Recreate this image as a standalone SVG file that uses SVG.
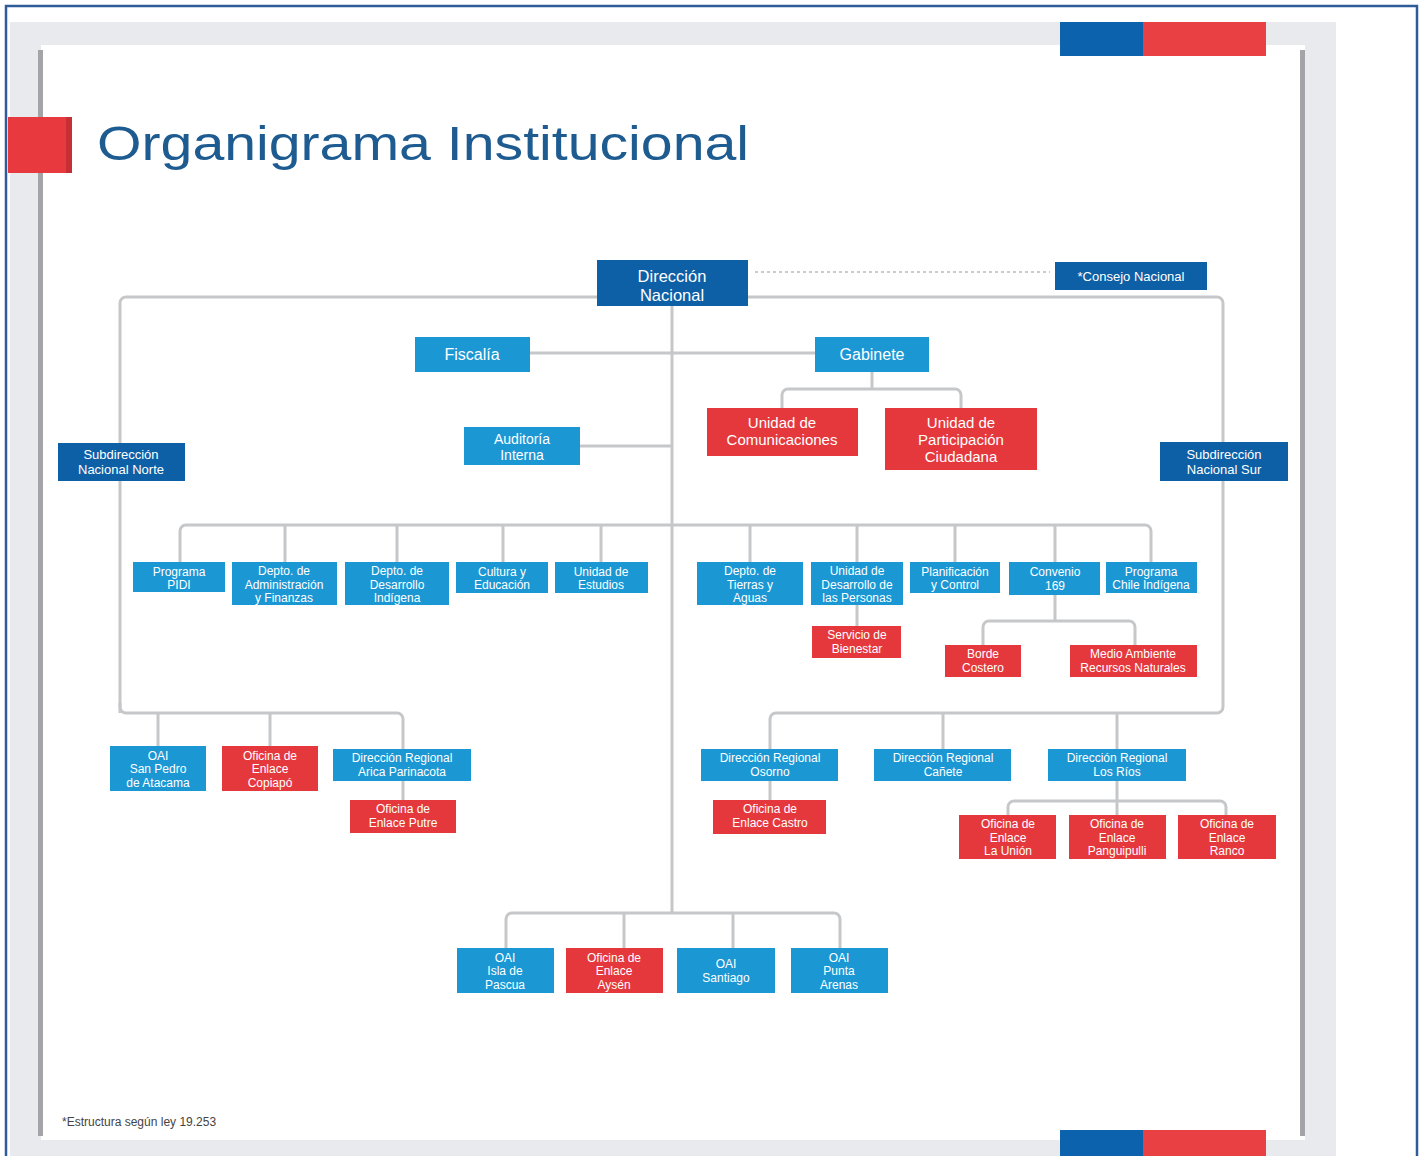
<svg xmlns="http://www.w3.org/2000/svg" width="1421" height="1156" viewBox="0 0 1421 1156">
<style>
.lb{fill:#1b97d4}
.db{fill:#0d5fa6}
.rd{fill:#e4383d}
text{font-family:"Liberation Sans",Arial,sans-serif;fill:#fff;text-anchor:middle}
.s12{font-size:12px}
.s13{font-size:13px}
.s14{font-size:14px}
.s15{font-size:15px}
.s16{font-size:16px}
.s17{font-size:16.5px}
.c{fill:none;stroke:#c6c7c9;stroke-width:3;stroke-linejoin:round;stroke-linecap:butt}
</style>
<rect x="0" y="0" width="1421" height="1156" fill="#fff"/>
<rect x="10" y="22" width="1326" height="1134" fill="#e9eaee"/>
<rect x="41" y="45" width="1264" height="1095" fill="#fff"/>
<rect x="38" y="50" width="5" height="1086" fill="#a3a4a8"/>
<rect x="1300" y="50" width="5" height="1086" fill="#a3a4a8"/>
<rect x="1060" y="22" width="83" height="34" fill="#0d62ad"/>
<rect x="1143" y="22" width="123" height="34" fill="#e94044"/>
<rect x="1060" y="1130" width="83" height="26" fill="#0d62ad"/>
<rect x="1143" y="1130" width="123" height="26" fill="#e94044"/>
<rect x="8" y="117" width="58" height="56" fill="#e8393e"/>
<rect x="66" y="117" width="6" height="56" fill="#c52f36"/>
<rect x="6" y="6" width="1411" height="1152" fill="none" stroke="#2f5c98" stroke-width="2.5"/>
<text x="97" y="160" style="font-size:48px;fill:#1d5b90;text-anchor:start" textLength="652" lengthAdjust="spacingAndGlyphs">Organigrama Institucional</text>
<text x="62" y="1126" style="font-size:12px;fill:#444;text-anchor:start">*Estructura según ley 19.253</text>

<g id="connectors">
<path class="c" d="M120,713 V303 A6,6 0 0 1 126,297 H1217 A6,6 0 0 1 1223,303 V707 A6,6 0 0 1 1217,713 H776 A6,6 0 0 0 770,719 V749"/>
<path class="c" d="M120,703 V707 A6,6 0 0 0 126,713 H397 A6,6 0 0 1 403,719 V749"/>
<path class="c" d="M158,713 V746 M270,713 V746 M943,713 V749 M1117,713 V749"/>
<path class="c" d="M672,306 V913"/>
<path class="c" d="M530,353 H815"/>
<path class="c" d="M580,446 H672"/>
<path class="c" d="M872,371 V389 M782,408 V395 A6,6 0 0 1 788,389 H955 A6,6 0 0 1 961,395 V408"/>
<path class="c" d="M180,562 V531 A6,6 0 0 1 186,525 H1145 A6,6 0 0 1 1151,531 V562"/>
<path class="c" d="M285,525 V562 M397,525 V562 M503,525 V562 M601,525 V562 M750,525 V562 M857,525 V562 M955,525 V562 M1055,525 V562"/>
<path class="c" d="M857,605 V626"/>
<path class="c" d="M1055,595 V621 M983,645 V627 A6,6 0 0 1 989,621 H1129 A6,6 0 0 1 1135,627 V645"/>
<path class="c" d="M403,781 V800"/>
<path class="c" d="M770,781 V800"/>
<path class="c" d="M1117,781 V815 M1008,815 V807 A6,6 0 0 1 1014,801 H1220 A6,6 0 0 1 1226,807 V815"/>
<path class="c" d="M506,948 V919 A6,6 0 0 1 512,913 H834 A6,6 0 0 1 840,919 V948 M624,913 V948 M733,913 V948"/>
<path d="M755,272 H1050" fill="none" stroke="#b9babd" stroke-width="1.6" stroke-dasharray="3 3"/>
</g>

<g id="direccion-nacional"><rect class="db" x="597" y="260" width="151" height="46"/><text class="s17" x="672" y="282">Dirección</text><text class="s17" x="672" y="300.5">Nacional</text></g>
<g id="consejo-nacional"><rect class="db" x="1055" y="262" width="152" height="28"/><text class="s13" x="1131" y="281">*Consejo Nacional</text></g>
<g id="fiscalia"><rect class="lb" x="415" y="337" width="115" height="35"/><text class="s16" x="472" y="360">Fiscalía</text></g>
<g id="gabinete"><rect class="lb" x="815" y="337" width="114" height="35"/><text class="s16" x="872" y="360">Gabinete</text></g>
<g id="auditoria"><rect class="lb" x="464" y="427" width="116" height="38"/><text class="s14" x="522" y="444">Auditoría</text><text class="s14" x="522" y="459.7">Interna</text></g>
<g id="unidad-comunicaciones"><rect class="rd" x="707" y="408" width="151" height="48"/><text class="s15" x="782" y="428">Unidad de</text><text class="s15" x="782" y="445">Comunicaciones</text></g>
<g id="unidad-participacion"><rect class="rd" x="885" y="408" width="152" height="62"/><text class="s15" x="961" y="428">Unidad de</text><text class="s15" x="961" y="445">Participación</text><text class="s15" x="961" y="462">Ciudadana</text></g>
<g id="subdireccion-norte"><rect class="db" x="58" y="443" width="127" height="38"/><text class="s13" x="121" y="459">Subdirección</text><text class="s13" x="121" y="474">Nacional Norte</text></g>
<g id="subdireccion-sur"><rect class="db" x="1160" y="442" width="128" height="39"/><text class="s13" x="1224" y="459">Subdirección</text><text class="s13" x="1224" y="474">Nacional Sur</text></g>

<g id="programa-pidi"><rect class="lb" x="133" y="562" width="92" height="30"/><text class="s12" x="179" y="575.5">Programa</text><text class="s12" x="179" y="589">PIDI</text></g>
<g id="depto-administracion"><rect class="lb" x="232" y="562" width="105" height="43"/><text class="s12" x="284" y="575">Depto. de</text><text class="s12" x="284" y="588.5">Administración</text><text class="s12" x="284" y="602">y Finanzas</text></g>
<g id="depto-desarrollo"><rect class="lb" x="345" y="562" width="104" height="43"/><text class="s12" x="397" y="575">Depto. de</text><text class="s12" x="397" y="588.5">Desarrollo</text><text class="s12" x="397" y="602">Indígena</text></g>
<g id="cultura"><rect class="lb" x="456" y="562" width="92" height="31"/><text class="s12" x="502" y="575.5">Cultura y</text><text class="s12" x="502" y="589">Educación</text></g>
<g id="estudios"><rect class="lb" x="555" y="562" width="93" height="31"/><text class="s12" x="601" y="575.5">Unidad de</text><text class="s12" x="601" y="589">Estudios</text></g>
<g id="tierras-aguas"><rect class="lb" x="697" y="562" width="106" height="43"/><text class="s12" x="750" y="575">Depto. de</text><text class="s12" x="750" y="588.5">Tierras y</text><text class="s12" x="750" y="602">Aguas</text></g>
<g id="desarrollo-personas"><rect class="lb" x="811" y="562" width="92" height="43"/><text class="s12" x="857" y="575">Unidad de</text><text class="s12" x="857" y="588.5">Desarrollo de</text><text class="s12" x="857" y="602">las Personas</text></g>
<g id="planificacion"><rect class="lb" x="910" y="562" width="90" height="31"/><text class="s12" x="955" y="575.5">Planificación</text><text class="s12" x="955" y="589">y Control</text></g>
<g id="convenio-169"><rect class="lb" x="1009" y="562" width="91" height="33"/><text class="s12" x="1055" y="576">Convenio</text><text class="s12" x="1055" y="589.5">169</text></g>
<g id="chile-indigena"><rect class="lb" x="1106" y="562" width="91" height="31"/><text class="s12" x="1151" y="575.5">Programa</text><text class="s12" x="1151" y="589">Chile Indígena</text></g>
<g id="servicio-bienestar"><rect class="rd" x="812" y="626" width="89" height="32"/><text class="s12" x="857" y="639">Servicio de</text><text class="s12" x="857" y="652.5">Bienestar</text></g>
<g id="borde-costero"><rect class="rd" x="945" y="645" width="76" height="32"/><text class="s12" x="983" y="658">Borde</text><text class="s12" x="983" y="671.5">Costero</text></g>
<g id="medio-ambiente"><rect class="rd" x="1070" y="645" width="127" height="32"/><text class="s12" x="1133" y="658">Medio Ambiente</text><text class="s12" x="1133" y="671.5">Recursos Naturales</text></g>

<g id="oai-san-pedro"><rect class="lb" x="110" y="746" width="96" height="45"/><text class="s12" x="158" y="759.5">OAI</text><text class="s12" x="158" y="773">San Pedro</text><text class="s12" x="158" y="786.5">de Atacama</text></g>
<g id="enlace-copiapo"><rect class="rd" x="222" y="746" width="96" height="45"/><text class="s12" x="270" y="759.5">Oficina de</text><text class="s12" x="270" y="773">Enlace</text><text class="s12" x="270" y="786.5">Copiapó</text></g>
<g id="dr-arica"><rect class="lb" x="333" y="749" width="138" height="32"/><text class="s12" x="402" y="762">Dirección Regional</text><text class="s12" x="402" y="775.5">Arica Parinacota</text></g>
<g id="enlace-putre"><rect class="rd" x="350" y="800" width="106" height="33"/><text class="s12" x="403" y="813">Oficina de</text><text class="s12" x="403" y="826.5">Enlace Putre</text></g>
<g id="dr-osorno"><rect class="lb" x="701" y="749" width="137" height="32"/><text class="s12" x="770" y="762">Dirección Regional</text><text class="s12" x="770" y="775.5">Osorno</text></g>
<g id="enlace-castro"><rect class="rd" x="713" y="800" width="113" height="34"/><text class="s12" x="770" y="813">Oficina de</text><text class="s12" x="770" y="826.5">Enlace Castro</text></g>
<g id="dr-canete"><rect class="lb" x="874" y="749" width="137" height="32"/><text class="s12" x="943" y="762">Dirección Regional</text><text class="s12" x="943" y="775.5">Cañete</text></g>
<g id="dr-los-rios"><rect class="lb" x="1048" y="749" width="138" height="32"/><text class="s12" x="1117" y="762">Dirección Regional</text><text class="s12" x="1117" y="775.5">Los Ríos</text></g>
<g id="enlace-la-union"><rect class="rd" x="959" y="815" width="97" height="44"/><text class="s12" x="1008" y="828">Oficina de</text><text class="s12" x="1008" y="841.5">Enlace</text><text class="s12" x="1008" y="855">La Unión</text></g>
<g id="enlace-panguipulli"><rect class="rd" x="1069" y="815" width="97" height="44"/><text class="s12" x="1117" y="828">Oficina de</text><text class="s12" x="1117" y="841.5">Enlace</text><text class="s12" x="1117" y="855">Panguipulli</text></g>
<g id="enlace-ranco"><rect class="rd" x="1178" y="815" width="98" height="44"/><text class="s12" x="1227" y="828">Oficina de</text><text class="s12" x="1227" y="841.5">Enlace</text><text class="s12" x="1227" y="855">Ranco</text></g>

<g id="oai-isla-pascua"><rect class="lb" x="457" y="948" width="97" height="45"/><text class="s12" x="505" y="961.5">OAI</text><text class="s12" x="505" y="975">Isla de</text><text class="s12" x="505" y="988.5">Pascua</text></g>
<g id="enlace-aysen"><rect class="rd" x="566" y="948" width="97" height="45"/><text class="s12" x="614" y="961.5">Oficina de</text><text class="s12" x="614" y="975">Enlace</text><text class="s12" x="614" y="988.5">Aysén</text></g>
<g id="oai-santiago"><rect class="lb" x="677" y="948" width="98" height="45"/><text class="s12" x="726" y="968">OAI</text><text class="s12" x="726" y="981.5">Santiago</text></g>
<g id="oai-punta-arenas"><rect class="lb" x="791" y="948" width="97" height="45"/><text class="s12" x="839" y="961.5">OAI</text><text class="s12" x="839" y="975">Punta</text><text class="s12" x="839" y="988.5">Arenas</text></g>
</svg>
